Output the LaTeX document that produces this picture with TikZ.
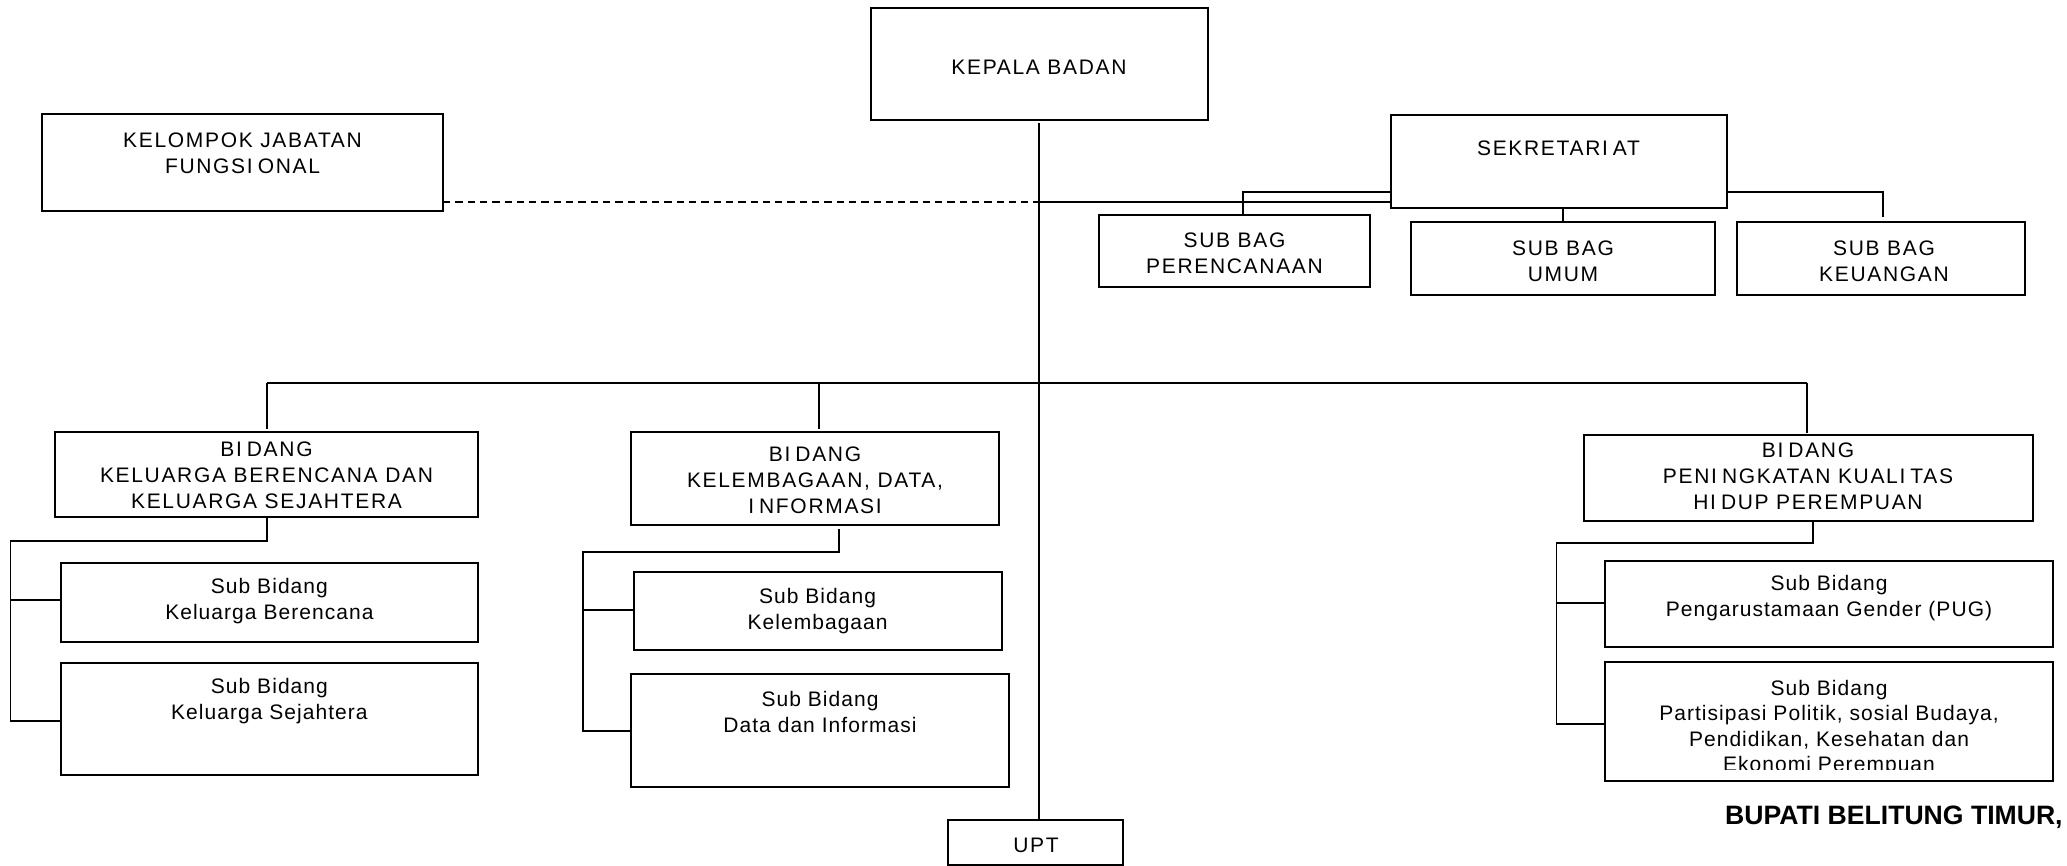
\documentclass[tikz,border=0pt]{standalone}
\usepackage{fontspec}
\setmainfont{Liberation Sans}
\newfontfamily\capf[LetterSpace=8]{Liberation Sans}
\newfontfamily\lowf[LetterSpace=5]{Liberation Sans}
\newcommand\gI{\kern5pt}
\newcommand\orgbox[5]{\node[box,minimum width={(#4-(#2))*1pt},minimum height={(#5-(#3))*1pt}] (#1) at ({(#2+#4)/2},{(#3+#5)/2}) {};}
\tikzset{
  box/.style={draw=black,line width=2pt,rectangle,inner sep=0pt,outer sep=0pt,fill=white},
  capt/.style={inner sep=0pt,align=center,font=\capf\fontsize{21}{26}\selectfont},
  lowt/.style={inner sep=0pt,align=center,font=\lowf\fontsize{21}{25.5}\selectfont},
  conn/.style={draw=black,line width=1.8pt},
  bus/.style={draw=black,line width=2.2pt},
}
\begin{document}
\begin{tikzpicture}[x=1pt,y=-1pt]
\useasboundingbox (0,0) rectangle (2067,866);
\orgbox{kepala}{870.6}{8}{1207.6}{120}
\orgbox{kelompok}{42}{114}{443}{211}
\orgbox{sek}{1390.5}{115}{1726.5}{208}
\orgbox{pere}{1099}{215}{1370}{287}
\orgbox{umum}{1411}{222}{1715}{295}
\orgbox{keu}{1737}{222}{2025}{295}
\orgbox{bkb}{55.4}{432}{477.7}{517}
\orgbox{bkel}{630.7}{432}{999}{524.7}
\orgbox{bpk}{1583.8}{434.7}{2032.6}{521.3}
\orgbox{skb}{61}{563}{477.7}{642}
\orgbox{sks}{61}{662.7}{477.7}{775.3}
\orgbox{skel}{633.5}{572}{1001.8}{649.7}
\orgbox{sdata}{631.4}{674}{1008.8}{786.7}
\orgbox{spug}{1605}{561}{2053.4}{646.7}
\orgbox{spart}{1605}{661.7}{2053.4}{781}
\orgbox{upt}{948.4}{820}{1123.3}{865}

% coordinates for connector corners
\coordinate (ktop) at (1039,123);
\coordinate (jn) at (1039,202);
\coordinate (busL) at (267,382.7);
\coordinate (busR) at (1807,382.7);

% main vertical
\draw[conn] (ktop) -- (ktop |- upt.north);
% dashed to kelompok
\draw[line width=2pt,dash pattern=on 7.3pt off 5pt] (kelompok.east |- jn) -- (jn);
\draw[conn] (jn) -- (sek.west |- jn);
% sekretariat branches
\draw[conn] (sek.west |- 0,192) -- (1242.6,192) -- (1242.6,0 |- pere.north);
\draw[conn] (umum.north) -- (umum.north |- sek.south);
\draw[conn] (sek.east |- 0,192) -- (1883,192) -- (1883,217);
% bus
\draw[bus] (busL) -- (busR);
\draw[conn] (busL) -- (267,429);
\draw[conn] (818.7,382.7) -- (818.7,429);
\draw[conn] (busR) -- (1807,433);
% KB group
\draw[conn] (267,0 |- bkb.south) -- (267,541) -- (10.5,541) -- (10.5,720.7) -- (sks.west |- 0,720.7);
\draw[conn] (10.5,600) -- (skb.west |- 0,600);
% Kel group
\draw[conn] (839,529) -- (839,551.7) -- (583,551.7) -- (583,731) -- (sdata.west |- 0,731);
\draw[conn] (583,610) -- (skel.west |- 0,610);
% PKHP group
\draw[conn] (1812.7,0 |- bpk.south) -- (1812.7,543.3) -- (1556.5,543.3) -- (1556.5,723.7) -- (spart.west |- 0,723.7);
\draw[conn] (1556.5,602.7) -- (spug.west |- 0,602.7);

% redraw box borders over connectors
\foreach \n in {kepala,kelompok,sek,pere,umum,keu,bkb,bkel,bpk,skb,sks,skel,sdata,spug,spart,upt}
  \draw[line width=2pt] (\n.north west) rectangle (\n.south east);

% texts
\node[capt] (t-kepala) at (1039,67) {KEPALA BADAN};
\node[capt] (t-kelompok) at (242.5,153) {KELOMPOK JABATAN\\FUNGSI\gI ONAL};
\node[capt] (t-sek) at (1558.5,148) {SEKRETARI\gI AT};
\node[capt] (t-pere) at (1234.5,253.5) {SUB BAG\\PERENCANAAN};
\node[capt] (t-umum) at (1563,261) {SUB BAG\\UMUM};
\node[capt] (t-keu) at (1884,261) {SUB BAG\\KEUANGAN};
\node[capt] (t-bkb) at (266.5,475) {BI\gI DANG\\KELUARGA BERENCANA DAN\\KELUARGA SEJAHTERA};
\node[capt] (t-bkel) at (815,480) {BI\gI DANG\\KELEMBAGAAN, DATA,\\I\gI NFORMASI};
\node[capt] (t-bpk) at (1808,476) {BI\gI DANG\\PENI\gI NGKATAN KUALI\gI TAS\\HI\gI DUP PEREMPUAN};
\node[lowt] (t-skb) at (269.4,601) {Sub Bidang\\Keluarga Berencana};
\node[lowt] (t-sks) at (269.4,701) {Sub Bidang\\Keluarga Sejahtera};
\node[lowt] (t-skel) at (817.6,611) {Sub Bidang\\Kelembagaan};
\node[lowt] (t-sdata) at (820,712) {Sub Bidang\\Data dan Informasi};
\node[lowt] (t-spug) at (1829,598) {Sub Bidang\\Pengarustamaan Gender (PUG)};
\begin{scope}
\clip (1606,663) rectangle (2052,769);
\node[lowt,anchor=north] (t-spart) at (1829,680) {Sub Bidang\\Partisipasi Politik, sosial Budaya,\\Pendidikan, Kesehatan dan\\Ekonomi Perempuan};
\end{scope}
\node[capt] (t-upt) at (1036,845) {UPT};
\node[inner sep=0pt,anchor=base west,font=\bfseries\fontsize{26.6}{30}\selectfont] (bupati) at (1725,824) {BUPATI BELITUNG TIMUR,};
\end{tikzpicture}
\end{document}
